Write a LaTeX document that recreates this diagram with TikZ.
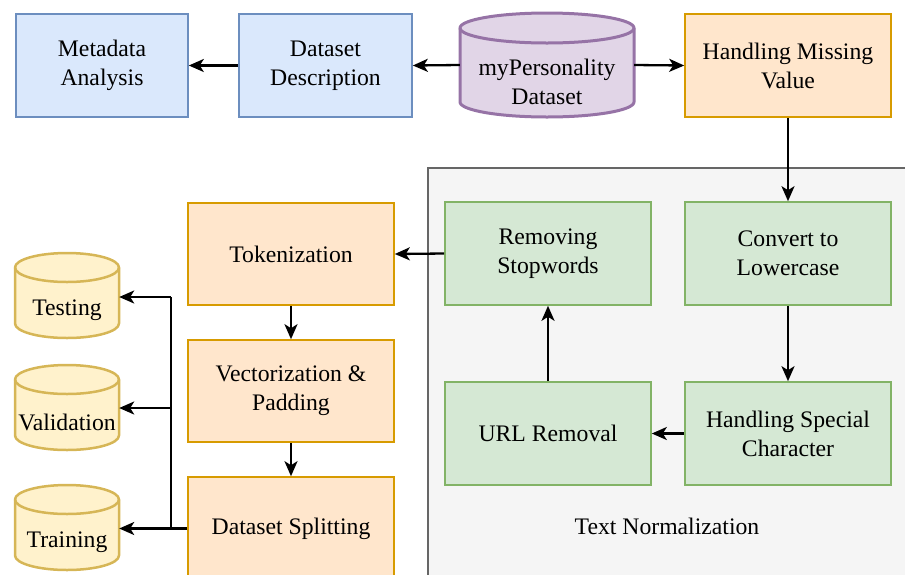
\documentclass[tikz,border=0pt]{standalone}
\usepackage{fontspec}
\newfontfamily\diagfont{Liberation Serif}
\usetikzlibrary{arrows.meta,calc}
\definecolor{bluefill}{HTML}{DAE8FC}
\definecolor{bluedraw}{HTML}{6C8EBF}
\definecolor{purpfill}{HTML}{E1D5E7}
\definecolor{purpdraw}{HTML}{9673A6}
\definecolor{orfill}{HTML}{FFE6CC}
\definecolor{ordraw}{HTML}{D79B00}
\definecolor{grfill}{HTML}{D5E8D4}
\definecolor{grdraw}{HTML}{82B366}
\definecolor{yefill}{HTML}{FFF2CC}
\definecolor{yedraw}{HTML}{D6B656}
\definecolor{contfill}{HTML}{F5F5F5}
\definecolor{contdraw}{HTML}{666666}
\newcommand\mycyl[6]{%
  \path[#6] (#1,#2+#5) -- (#1,#4-#5)
    arc[start angle=180,end angle=0,x radius={(#3-#1)/2},y radius=#5]
    -- (#3,#2+#5)
    arc[start angle=0,end angle=-180,x radius={(#3-#1)/2},y radius=#5] -- cycle;
  \path[#6,fill=none] (#1,#2+#5)
    arc[start angle=180,end angle=0,x radius={(#3-#1)/2},y radius=#5];
}
\begin{document}
\begin{tikzpicture}[x=1pt,y=-1pt,
  box/.style={rectangle, draw, line width=1.6pt, align=center, minimum height=103pt, inner sep=0pt, font=\diagfont\fontsize{23.7}{29}\selectfont},
  bluebox/.style={box, fill=bluefill, draw=bluedraw},
  orbox/.style={box, fill=orfill, draw=ordraw},
  grbox/.style={box, fill=grfill, draw=grdraw},
  cylarea/.style={rectangle, inner sep=0pt},
  txt/.style={align=center, inner sep=0pt, font=\diagfont\fontsize{23.7}{29}\selectfont},
  arr/.style={-{Stealth[length=15pt,width=13pt,inset=4pt]}, line width=2.3pt, black},
  ln/.style={line width=2.3pt, black}
]
\useasboundingbox (0,0) rectangle (905,574);
\clip (0,0) rectangle (905,574);

% container
\draw[fill=contfill, draw=contdraw, line width=1.6pt] (428,168) rectangle (940,610);
\node[txt] (tn) at (667,526) {Text Normalization};

% top row
\node[bluebox, minimum width=172pt] (meta) at (102,65.5) {Metadata\\Analysis};
\node[bluebox, minimum width=173pt] (desc) at (325.5,65.5) {Dataset\\Description};
\mycyl{460}{13}{634}{117}{15}{fill=purpfill, draw=purpdraw, line width=3pt}
\node[cylarea, minimum width=174pt, minimum height=104pt] (myp) at (547,65) {};
\node[txt] (mypL) at (547,81.5) {myPersonality\\Dataset};
\node[orbox, minimum width=206pt] (hmv) at (788,65.5) {Handling Missing\\Value};

% normalization boxes
\node[grbox, minimum width=206pt] (rsw) at (548,253.5) {Removing\\Stopwords};
\node[grbox, minimum width=206pt] (ctl) at (788,253.5) {Convert to\\Lowercase};
\node[grbox, minimum width=206pt] (url) at (548,433.5) {URL Removal};
\node[grbox, minimum width=206pt] (hsc) at (788,433.5) {Handling Special\\Character};

% left column
\node[orbox, minimum width=206pt, minimum height=102pt] (tok) at (291,254) {Tokenization};
\node[orbox, minimum width=206pt, minimum height=102pt] (vec) at (291,391) {Vectorization \&\\Padding};
\node[orbox, minimum width=206pt] (split) at (291,528.5) {Dataset Splitting};

% cylinders
\mycyl{15}{253}{119}{338}{14.5}{fill=yefill, draw=yedraw, line width=2.5pt}
\node[cylarea, minimum width=104pt, minimum height=85pt] (test) at (67,295.5) {};
\node[txt] (testL) at (67,310) {Testing};
\mycyl{15}{365}{119}{450}{14.5}{fill=yefill, draw=yedraw, line width=2.5pt}
\node[cylarea, minimum width=104pt, minimum height=85pt] (val) at (67,407.5) {};
\node[txt] (valL) at (67,422) {Validation};
\mycyl{15}{485}{119}{570}{14.5}{fill=yefill, draw=yedraw, line width=2.5pt}
\node[cylarea, minimum width=104pt, minimum height=85pt] (train) at (67,527.5) {};
\node[txt] (trainL) at (67,542) {Training};

% connectors
\draw[arr] (myp.west) -- (desc.east);
\draw[arr] (desc.west) -- (meta.east);
\draw[arr] (myp.east) -- (hmv.west);
\draw[arr] (hmv.south) -- (ctl.north);
\draw[arr] (ctl.south) -- (hsc.north);
\draw[arr] (hsc.west) -- (url.east);
\draw[arr] (url.north) -- (rsw.south);
\draw[arr] (rsw.west) -- (tok.east);
\draw[arr] (tok.south) -- (vec.north);
\draw[arr] (vec.south) -- (split.north);

\coordinate (tBot) at (171,528.5);
\coordinate (tTop) at (171,297);
\coordinate (tMid) at (171,408);
\draw[ln] (split.west) -- (tBot) -- (tTop);
\draw[arr] (tBot) -- (tBot -| train.east);
\draw[arr] (tMid) -- (tMid -| val.east);
\draw[arr] (tTop) -- (tTop -| test.east);
\end{tikzpicture}
\end{document}
